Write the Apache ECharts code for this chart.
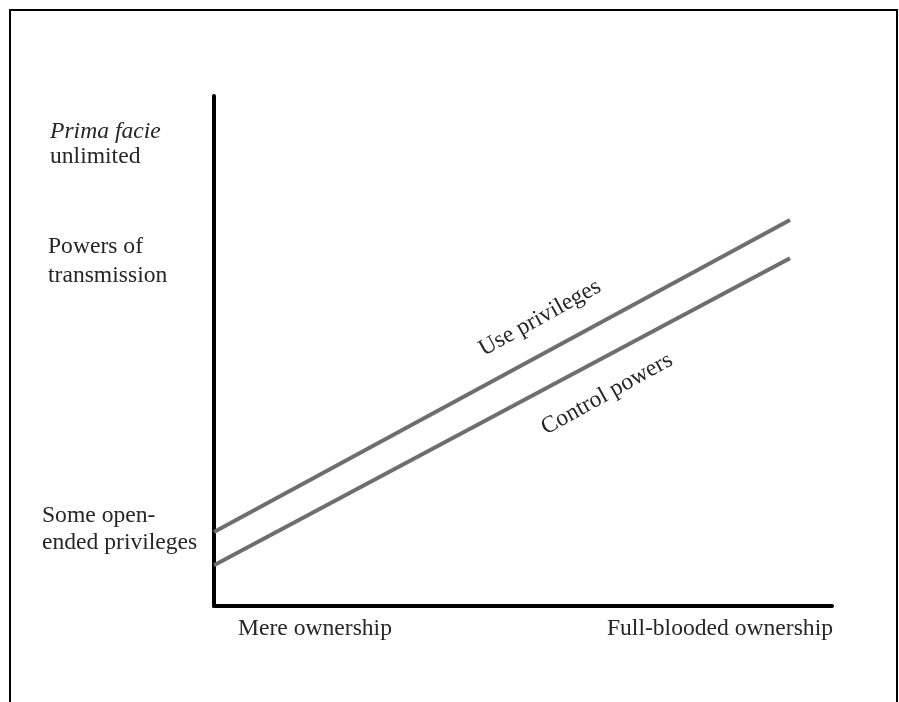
<!DOCTYPE html>
<html>
<head>
<meta charset="utf-8">
<script src="https://cdn.jsdelivr.net/npm/echarts@6/dist/echarts.min.js"></script>
<style>
html,body{margin:0;padding:0;background:#fff;}
#chart{width:899px;height:702px;}
</style>
</head>
<body>
<div id="chart"></div>
<script>
// Data
const seriesNames = ['Use privileges', 'Control powers'];
const xEnds = [0, 93.2];
const useValues = [14.5, 75.7];
const controlValues = [8.0, 68.2];
const xTickLabels = ['Mere ownership', 'Full-blooded ownership'];
const yTickLabels = [
  ['Prima facie', 'unlimited'],
  ['Powers of', 'transmission'],
  ['Some open-', 'ended privileges']
];

const FONT = '"Liberation Serif", "DejaVu Serif", serif';
const TXT = '#262626';
const SIZE = '23.6px ';
const chart = echarts.init(document.getElementById('chart'), null, {renderer: 'canvas'});

function txt(text, x, y, opts) {
  return Object.assign({
    type: 'text', x: x, y: y,
    style: Object.assign({text: text, font: SIZE + FONT, fill: TXT,
      align: 'left', verticalAlign: 'middle'}, (opts && opts.style) || {})
  }, opts && opts.rotation !== undefined ? {rotation: opts.rotation} : {});
}
const rot = 29 * Math.PI / 180;

const option = {
  backgroundColor: '#fff',
  animation: false,
  grid: {left: 214, right: 67, top: 96, bottom: 96},
  xAxis: {
    type: 'value', min: 0, max: 100,
    axisLine: {show: true, lineStyle: {color: '#000', width: 4}},
    axisTick: {show: false}, axisLabel: {show: false}, splitLine: {show: false}
  },
  yAxis: {
    type: 'value', min: 0, max: 100,
    axisLine: {show: true, lineStyle: {color: '#000', width: 4}},
    axisTick: {show: false}, axisLabel: {show: false}, splitLine: {show: false}
  },
  series: [
    {name: seriesNames[0], type: 'line', symbol: 'none',
     data: xEnds.map((x, i) => [x, useValues[i]]),
     lineStyle: {color: '#6e6e6e', width: 4}},
    {name: seriesNames[1], type: 'line', symbol: 'none',
     data: xEnds.map((x, i) => [x, controlValues[i]]),
     lineStyle: {color: '#6e6e6e', width: 4}}
  ],
  graphic: [
    {type: 'polyline', shape: {points: [[10, 702], [10, 10], [897, 10], [897, 702]]},
     style: {stroke: '#000', lineWidth: 2, fill: null}},
    txt(yTickLabels[0][0], 50, 132, {style: {font: 'italic ' + SIZE + FONT}}),
    txt(yTickLabels[0][1], 50, 157),
    txt(yTickLabels[1][0], 48, 247),
    txt(yTickLabels[1][1], 48, 276),
    txt(yTickLabels[2][0], 42, 516),
    txt(yTickLabels[2][1], 42, 543),
    txt(xTickLabels[0], 238, 629),
    txt(xTickLabels[1], 833, 629, {style: {align: 'right'}}),
    txt(seriesNames[0], 540, 318, {rotation: rot, style: {align: 'center'}}),
    txt(seriesNames[1], 607, 394, {rotation: rot, style: {align: 'center'}})
  ]
};
chart.setOption(option);
</script>
</body>
</html>
